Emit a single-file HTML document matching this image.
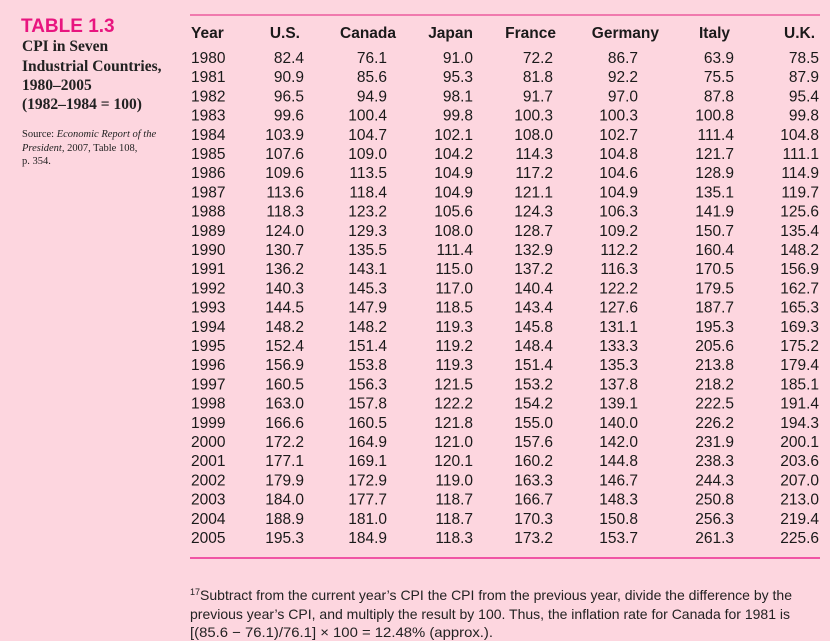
<!DOCTYPE html>
<html><head><meta charset="utf-8"><style>
html,body{margin:0;padding:0;background:#fdd6df;}
svg{display:block;font-family:"Liberation Sans",sans-serif;}
</style></head><body>
<svg id="t" width="830" height="641" viewBox="0 0 830 641" xmlns="http://www.w3.org/2000/svg">
<rect width="830" height="641" fill="#fdd6df"/>
<text x="21" y="32" fill="#e8157f" font-size="19" font-weight="bold">TABLE 1.3</text>
<g font-family="'Liberation Serif',serif" font-weight="bold" font-size="15.5" fill="#222">
<text x="22" y="51">CPI in Seven</text>
<text x="22" y="71">Industrial Countries,</text>
<text x="22" y="90">1980–2005</text>
<text x="22" y="109">(1982–1984 = 100)</text>
</g>
<g font-family="'Liberation Serif',serif" font-size="10.5" fill="#222">
<text x="22" y="137">Source: <tspan font-style="italic">Economic Report of the</tspan></text>
<text x="22" y="151"><tspan font-style="italic">President,</tspan> 2007, Table 108,</text>
<text x="22" y="164">p. 354.</text>
</g>
<line x1="190" y1="15" x2="820" y2="15" stroke="#f07aae" stroke-width="2"/>
<line x1="190" y1="558" x2="820" y2="558" stroke="#ec2a92" stroke-width="1.5"/>
<g id="hdr"></g>
<g id="body"></g>
<g font-size="14" fill="#222">
<text x="190" y="600" textLength="602" lengthAdjust="spacingAndGlyphs"><tspan font-size="9" dy="-5">17</tspan><tspan dy="5">Subtract from the current year’s CPI the CPI from the previous year, divide the difference by the</tspan></text>
<text x="190" y="619" textLength="600" lengthAdjust="spacingAndGlyphs">previous year’s CPI, and multiply the result by 100. Thus, the inflation rate for Canada for 1981 is</text>
<text x="190" y="637" textLength="303" lengthAdjust="spacingAndGlyphs">[(85.6 − 76.1)/76.1] × 100 = 12.48% (approx.).</text>
</g>
</svg>
<script>
const years=[1980,1981,1982,1983,1984,1985,1986,1987,1988,1989,1990,1991,1992,1993,1994,1995,1996,1997,1998,1999,2000,2001,2002,2003,2004,2005];
const countries=["U.S.","Canada","Japan","France","Germany","Italy","U.K."];
const us=[82.4,90.9,96.5,99.6,103.9,107.6,109.6,113.6,118.3,124.0,130.7,136.2,140.3,144.5,148.2,152.4,156.9,160.5,163.0,166.6,172.2,177.1,179.9,184.0,188.9,195.3];
const canada=[76.1,85.6,94.9,100.4,104.7,109.0,113.5,118.4,123.2,129.3,135.5,143.1,145.3,147.9,148.2,151.4,153.8,156.3,157.8,160.5,164.9,169.1,172.9,177.7,181.0,184.9];
const japan=[91.0,95.3,98.1,99.8,102.1,104.2,104.9,104.9,105.6,108.0,111.4,115.0,117.0,118.5,119.3,119.2,119.3,121.5,122.2,121.8,121.0,120.1,119.0,118.7,118.7,118.3];
const france=[72.2,81.8,91.7,100.3,108.0,114.3,117.2,121.1,124.3,128.7,132.9,137.2,140.4,143.4,145.8,148.4,151.4,153.2,154.2,155.0,157.6,160.2,163.3,166.7,170.3,173.2];
const germany=[86.7,92.2,97.0,100.3,102.7,104.8,104.6,104.9,106.3,109.2,112.2,116.3,122.2,127.6,131.1,133.3,135.3,137.8,139.1,140.0,142.0,144.8,146.7,148.3,150.8,153.7];
const italy=[63.9,75.5,87.8,100.8,111.4,121.7,128.9,135.1,141.9,150.7,160.4,170.5,179.5,187.7,195.3,205.6,213.8,218.2,222.5,226.2,231.9,238.3,244.3,250.8,256.3,261.3];
const uk=[78.5,87.9,95.4,99.8,104.8,111.1,114.9,119.7,125.6,135.4,148.2,156.9,162.7,165.3,169.3,175.2,179.4,185.1,191.4,194.3,200.1,203.6,207.0,213.0,219.4,225.6];
const series=[us,canada,japan,france,germany,italy,uk];
const NS="http://www.w3.org/2000/svg";
const colRight=[304,387,473,553,638,734,819];
const hdrRight=[300,396,473,556,659,730,815];
function rowY(i){return 63+i*19.2;}
const hdr=document.getElementById('hdr'),body=document.getElementById('body');
function mk(parent,x,y,txt,anchor,bold){
  const t=document.createElementNS(NS,'text');
  t.setAttribute('x',x);t.setAttribute('y',y);
  t.setAttribute('font-size','15.5');t.setAttribute('fill','#1a1a1a');
  if(anchor)t.setAttribute('text-anchor',anchor);
  if(bold)t.setAttribute('font-weight','bold');
  t.textContent=txt;parent.appendChild(t);return t;
}
let h=mk(hdr,191,38,"Year",null,true);


countries.forEach((c,j)=>{
  const e=mk(hdr,hdrRight[j],38,c,'end',true);
  
  
});
years.forEach((yr,i)=>{
  const y=rowY(i);
  const e=mk(body,191,y,String(yr));
  
  
  series.forEach((s,j)=>{
    const c=mk(body,colRight[j],y,s[i].toFixed(1),'end');
    
    
  });
});
</script>
</body></html>
